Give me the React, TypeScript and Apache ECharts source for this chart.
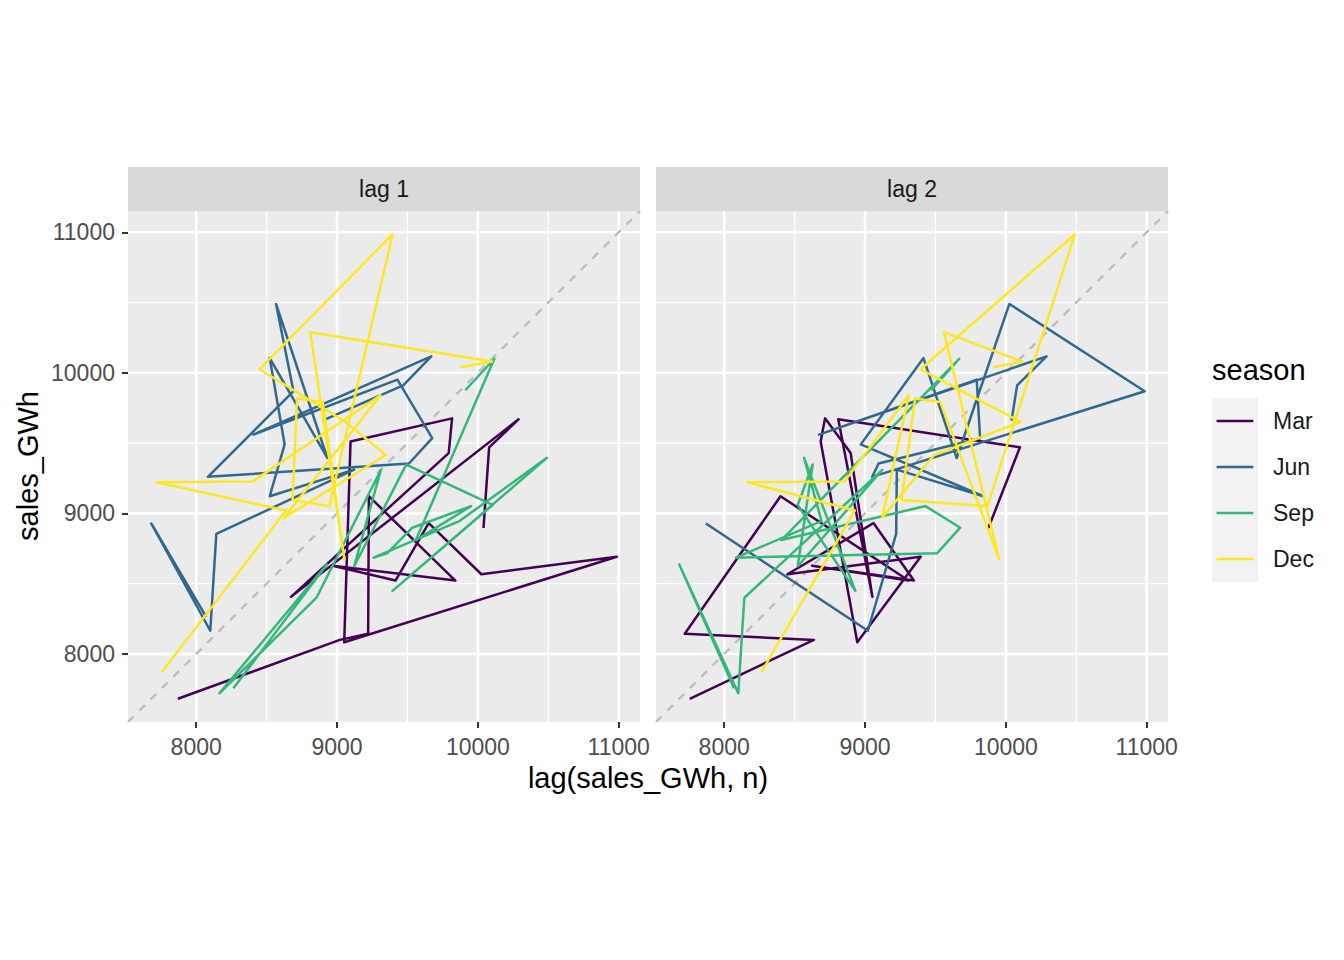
import React, { useEffect, useRef } from "react";
import * as echarts from "echarts";

// ---- data (quarterly sales_GWh, one entry per year for each quarter) ----
const seasons = ["Mar", "Jun", "Sep", "Dec"];
const seasonColors = ["#440154", "#31688E", "#35B779", "#FDE725"];
const marSales = [8071, 7681, 8100, 8143, 9122, 8522, 8628, 8522, 8931, 8567, 8691, 8083, 9511, 9676, 9429, 8406, 9669, 9470, 8896];
const junSales = [8264, 8928, 8165, 8854, 9311, 9122, 9491, 10105, 9394, 10490, 9869, 9260, 9355, 9535, 9952, 9560, 10117, 9911, 9660];
const sepSales = [7755, 8637, 7720, 8400, 9309, 8624, 9347, 9060, 8449, 9395, 8945, 8685, 8716, 8898, 9052, 8810, 10100, 9876];
const decSales = [7870, 9020, 9221, 9226, 9840, 8970, 9415, 9651, 10025, 10986, 9051, 9096, 9817, 9793, 8673, 10289, 10080, 10040];
const lags = [1, 2];
const panelLabels = ["lag 1", "lag 2"];
const majorTicks = [8000, 9000, 10000, 11000];
const minorTicks = [8500, 9500, 10500];

const FONT = '"Liberation Sans", Arial, Helvetica, sans-serif';

const panels = [
  { left: 128, top: 211, width: 512, height: 511 },
  { left: 656, top: 211, width: 512, height: 511 },
];

function buildQuarterly() {
  const out: { v: number; q: number }[] = [];
  const cols = [marSales, junSales, sepSales, decSales];
  for (let y = 0; y < marSales.length; y++) {
    for (let q = 0; q < 4; q++) {
      const v = cols[q][y];
      if (v === undefined) return out;
      out.push({ v, q });
    }
  }
  return out;
}

function buildOption() {
  const s = buildQuarterly();
  const vals = s.map((d) => d.v);
  const vmin = Math.min(...vals);
  const vmax = Math.max(...vals);
  const pad = (vmax - vmin) * 0.05;
  const lo = vmin - pad;
  const hi = vmax + pad;

  const series: any[] = [];

  lags.forEach((n, pi) => {
    const common = {
      type: "line",
      xAxisIndex: pi,
      yAxisIndex: pi,
      symbol: "none",
      showSymbol: false,
      silent: true,
      animation: false,
    };
    const gridLine = (v: number, major: boolean, vertical: boolean) => ({
      ...common,
      z: 1,
      data: vertical ? [[v, lo], [v, hi]] : [[lo, v], [hi, v]],
      lineStyle: { color: "#FFFFFF", width: major ? 2.6 : 1.3 },
    });
    minorTicks.forEach((v) => {
      series.push(gridLine(v, false, true));
      series.push(gridLine(v, false, false));
    });
    majorTicks.forEach((v) => {
      series.push(gridLine(v, true, true));
      series.push(gridLine(v, true, false));
    });
    // diagonal y = x
    series.push({
      ...common,
      z: 2,
      data: [[lo, lo], [hi, hi]],
      lineStyle: { color: "#BEBEBE", width: 2.4, type: [8, 8] },
    });
    // lag paths per season
    seasons.forEach((name, q) => {
      const pts: number[][] = [];
      for (let i = n; i < s.length; i++) {
        if (s[i].q === q) pts.push([s[i - n].v, s[i].v]);
      }
      series.push({
        ...common,
        name,
        z: 3 + q,
        data: pts,
        lineStyle: { color: seasonColors[q], width: 2.5, join: "round", cap: "butt" },
      });
    });
  });

  const axisLabelBase = {
    customValues: majorTicks,
    margin: 13,
    fontSize: 23,
    color: "#4D4D4D",
    fontFamily: FONT,
    formatter: (v: number) => String(v),
  };
  const tickBase = {
    show: true,
    customValues: majorTicks,
    length: 6,
    lineStyle: { color: "#333333", width: 2 },
  };

  const graphic: any[] = [];
  panels.forEach((p, i) => {
    graphic.push({
      type: "rect",
      shape: { x: p.left, y: 167, width: p.width, height: 44 },
      style: { fill: "#D9D9D9" },
      silent: true,
    });
    graphic.push({
      type: "text",
      x: p.left + p.width / 2,
      y: 189,
      style: { text: panelLabels[i], font: `23px ${FONT}`, fill: "#1A1A1A", align: "center", verticalAlign: "middle" },
      silent: true,
    });
  });
  graphic.push({
    type: "text",
    x: 648,
    y: 778,
    style: { text: "lag(sales_GWh, n)", font: `29px ${FONT}`, fill: "#000000", align: "center", verticalAlign: "middle" },
  });
  graphic.push({
    type: "text",
    x: 28,
    y: 466,
    rotation: Math.PI / 2,
    style: { text: "sales_GWh", font: `29px ${FONT}`, fill: "#000000", align: "center", verticalAlign: "middle" },
  });
  // legend
  graphic.push({
    type: "text",
    x: 1212,
    y: 370,
    style: { text: "season", font: `29px ${FONT}`, fill: "#000000", align: "left", verticalAlign: "middle" },
  });
  seasons.forEach((name, i) => {
    const top = 398 + 46 * i;
    graphic.push({
      type: "rect",
      shape: { x: 1212, y: top, width: 46, height: 46 },
      style: { fill: "#F2F2F2" },
    });
    graphic.push({
      type: "line",
      shape: { x1: 1216.6, y1: top + 23, x2: 1253.4, y2: top + 23 },
      style: { stroke: seasonColors[i], lineWidth: 2.5 },
    });
    graphic.push({
      type: "text",
      x: 1273,
      y: top + 23,
      style: { text: name, font: `23px ${FONT}`, fill: "#1A1A1A", align: "left", verticalAlign: "middle" },
    });
  });

  return {
    animation: false,
    backgroundColor: "#FFFFFF",
    grid: panels.map((p) => ({
      left: p.left,
      top: p.top,
      width: p.width,
      height: p.height,
      show: true,
      backgroundColor: "#EBEBEB",
      borderWidth: 0,
      containLabel: false,
    })),
    xAxis: panels.map((_, i) => ({
      type: "value",
      gridIndex: i,
      min: lo,
      max: hi,
      axisLine: { show: false },
      splitLine: { show: false },
      axisTick: tickBase,
      axisLabel: axisLabelBase,
    })),
    yAxis: panels.map((_, i) => ({
      type: "value",
      gridIndex: i,
      min: lo,
      max: hi,
      axisLine: { show: false },
      splitLine: { show: false },
      axisTick: i === 0 ? tickBase : { show: false },
      axisLabel: i === 0 ? axisLabelBase : { show: false },
    })),
    series,
    graphic,
  };
}

export default function App() {
  const ref = useRef<HTMLDivElement>(null);
  useEffect(() => {
    if (!ref.current) return;
    const chart = echarts.init(ref.current, null, { renderer: "svg" });
    chart.setOption(buildOption() as any);
    return () => {
      chart.dispose();
    };
  }, []);
  return (
    <div
      ref={ref}
      style={{ position: "absolute", left: 0, top: 0, width: 1344, height: 960, background: "#FFFFFF" }}
    />
  );
}
